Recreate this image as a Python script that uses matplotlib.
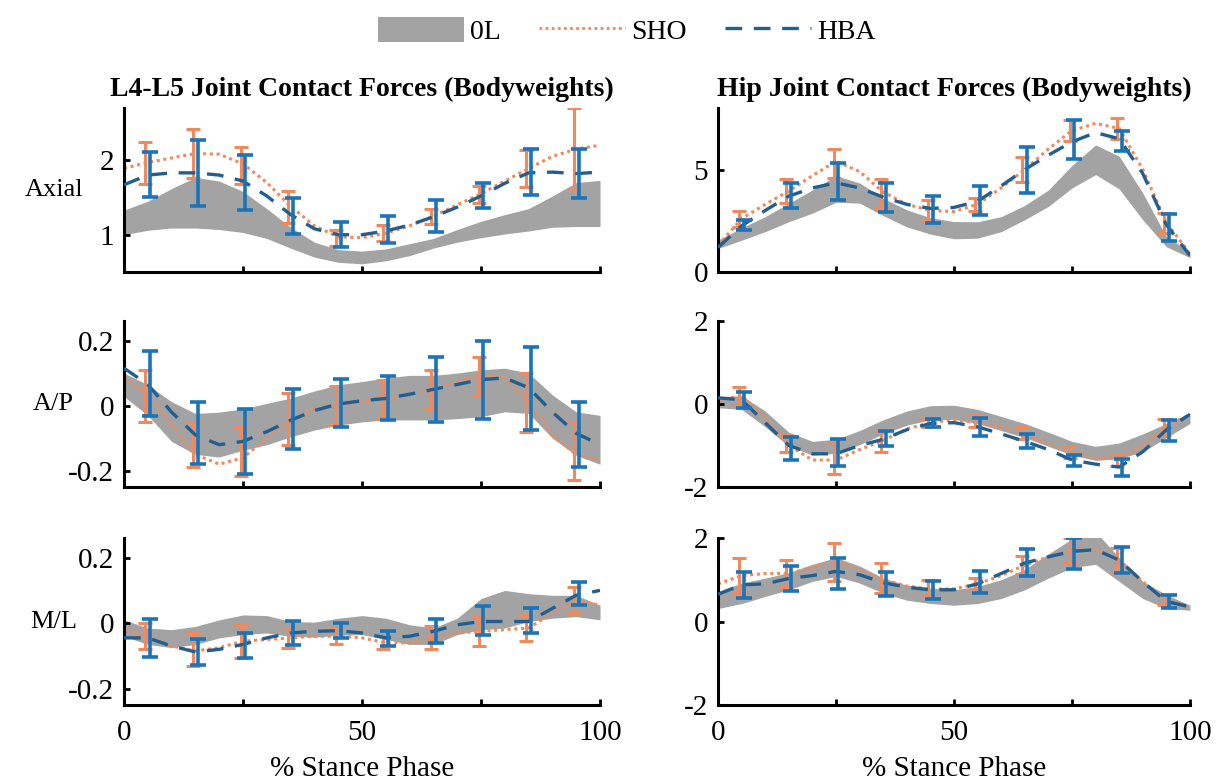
import numpy as np
import matplotlib
matplotlib.use("Agg")
import matplotlib.pyplot as plt
from matplotlib.patches import Patch
from matplotlib.lines import Line2D

plt.rcParams['font.family'] = ['Liberation Serif', 'DejaVu Serif']
plt.rcParams['axes.unicode_minus'] = False

# --- datos ---
PHASE = [0, 5, 10, 15, 20, 25, 30, 35, 40, 45, 50, 55, 60, 65, 70, 75, 80, 85, 90, 95, 100]
BAR_PHASE = [5, 15, 25, 35, 45, 55, 65, 75, 85, 95]

# L4-L5 axial
L_AX_LO = [1.00, 1.06, 1.09, 1.09, 1.07, 1.03, 0.95, 0.82, 0.70, 0.63, 0.61, 0.65, 0.72, 0.82, 0.90, 0.96, 1.01, 1.05, 1.10, 1.11, 1.11]
L_AX_HI = [1.33, 1.45, 1.62, 1.77, 1.72, 1.58, 1.35, 1.10, 0.90, 0.80, 0.78, 0.81, 0.88, 0.95, 1.07, 1.18, 1.27, 1.35, 1.52, 1.70, 1.73]
L_AX_SHO = [1.89, 1.97, 2.03, 2.09, 2.08, 1.95, 1.70, 1.38, 1.12, 0.97, 0.96, 1.02, 1.12, 1.25, 1.40, 1.55, 1.72, 1.89, 2.05, 2.15, 2.20]
L_AX_HBA = [1.67, 1.80, 1.83, 1.83, 1.80, 1.72, 1.52, 1.27, 1.08, 1.00, 1.00, 1.05, 1.13, 1.24, 1.37, 1.52, 1.69, 1.83, 1.84, 1.82, 1.84]
L_AX_SHO_M = [1.96, 2.09, 1.93, 1.37, 0.96, 1.02, 1.25, 1.54, 1.89, 2.15]
L_AX_SHO_SD = [0.28, 0.33, 0.25, 0.21, 0.11, 0.11, 0.10, 0.12, 0.25, 0.55]
L_AX_HBA_M = [1.81, 1.83, 1.70, 1.25, 1.00, 1.07, 1.25, 1.53, 1.84, 1.82]
L_AX_HBA_SD = [0.30, 0.44, 0.37, 0.24, 0.17, 0.18, 0.21, 0.17, 0.31, 0.33]

# L4-L5 A/P
L_AP_LO = [0.028, -0.03, -0.11, -0.15, -0.158, -0.137, -0.12, -0.096, -0.075, -0.06, -0.05, -0.044, -0.044, -0.044, -0.04, -0.034, -0.019, -0.024, -0.10, -0.153, -0.18]
L_AP_HI = [0.10, 0.064, 0.012, -0.024, -0.02, -0.01, 0.007, 0.023, 0.045, 0.064, 0.074, 0.085, 0.093, 0.093, 0.10, 0.11, 0.115, 0.10, 0.033, -0.019, -0.03]
L_AP_SHO = [0.09, 0.03, -0.06, -0.15, -0.18, -0.16, -0.10, -0.045, -0.01, 0.0, 0.01, 0.02, 0.035, 0.05, 0.075, 0.095, 0.085, 0.01, -0.09, -0.15, -0.17]
L_AP_HBA = [0.115, 0.065, -0.02, -0.09, -0.12, -0.11, -0.08, -0.045, -0.015, 0.005, 0.015, 0.022, 0.035, 0.05, 0.065, 0.08, 0.085, 0.055, -0.02, -0.085, -0.12]
L_AP_SHO_M = [0.03, -0.12, -0.14, -0.04, 0.0, 0.02, 0.05, 0.09, 0.01, -0.14]
L_AP_SHO_SD = [0.08, 0.07, 0.075, 0.08, 0.06, 0.06, 0.06, 0.06, 0.09, 0.09]
L_AP_HBA_M = [0.067, -0.084, -0.11, -0.04, 0.008, 0.023, 0.05, 0.079, 0.053, -0.09]
L_AP_HBA_SD = [0.10, 0.096, 0.10, 0.092, 0.074, 0.067, 0.10, 0.119, 0.128, 0.10]

# L4-L5 M/L
L_ML_LO = [-0.04, -0.065, -0.075, -0.065, -0.045, -0.035, -0.03, -0.04, -0.043, -0.037, -0.035, -0.05, -0.065, -0.065, -0.035, -0.02, -0.015, 0.005, 0.015, 0.02, 0.01]
L_ML_HI = [0.01, -0.015, -0.02, -0.01, 0.01, 0.025, 0.023, 0.005, 0.003, 0.015, 0.023, 0.015, -0.005, -0.015, 0.015, 0.075, 0.10, 0.09, 0.085, 0.085, 0.055]
L_ML_SHO = [-0.02, -0.04, -0.07, -0.085, -0.075, -0.055, -0.05, -0.045, -0.04, -0.04, -0.045, -0.06, -0.06, -0.045, -0.03, -0.025, -0.02, -0.015, 0.03, 0.07, 0.055]
L_ML_HBA = [-0.045, -0.045, -0.07, -0.088, -0.08, -0.065, -0.045, -0.03, -0.025, -0.023, -0.03, -0.045, -0.04, -0.025, -0.005, 0.005, 0.005, 0.005, 0.045, 0.085, 0.10]
L_ML_SHO_M = [-0.04, -0.08, -0.055, -0.045, -0.04, -0.06, -0.045, -0.025, -0.015, 0.07]
L_ML_SHO_SD = [0.04, 0.05, 0.05, 0.03, 0.025, 0.02, 0.035, 0.045, 0.04, 0.04]
L_ML_HBA_M = [-0.045, -0.088, -0.068, -0.03, -0.023, -0.047, -0.023, 0.008, 0.008, 0.09]
L_ML_HBA_SD = [0.058, 0.04, 0.039, 0.036, 0.023, 0.023, 0.037, 0.044, 0.039, 0.035]

# Cadera axial
H_AX_LO = [1.15, 1.55, 1.97, 2.45, 2.87, 3.40, 3.36, 2.75, 2.20, 1.85, 1.62, 1.65, 1.97, 2.55, 3.20, 4.10, 4.75, 4.05, 2.54, 1.23, 0.70]
H_AX_HI = [1.56, 2.15, 2.70, 3.35, 4.00, 4.70, 4.34, 3.60, 3.03, 2.65, 2.46, 2.45, 2.70, 3.25, 4.00, 5.20, 6.20, 5.65, 3.85, 1.72, 1.00]
H_AX_SHO = [1.30, 2.60, 3.30, 3.95, 4.70, 5.40, 4.90, 3.90, 3.30, 3.00, 2.95, 3.30, 4.10, 5.00, 6.00, 6.90, 7.25, 7.00, 5.00, 2.40, 0.90]
H_AX_HBA = [1.20, 2.25, 3.00, 3.70, 4.10, 4.35, 4.10, 3.65, 3.30, 3.10, 3.15, 3.45, 4.20, 5.00, 5.70, 6.35, 6.80, 6.50, 4.80, 2.30, 0.80]
H_AX_SHO_M = [2.60, 3.95, 5.30, 3.80, 3.00, 3.30, 5.00, 6.90, 7.00, 2.40]
H_AX_SHO_SD = [0.40, 0.60, 0.70, 0.75, 0.50, 0.30, 0.60, 0.50, 0.50, 0.50]
H_AX_HBA_M = [2.30, 3.72, 4.40, 3.62, 3.05, 3.50, 4.98, 6.45, 6.40, 2.15]
H_AX_HBA_SD = [0.25, 0.62, 0.90, 0.70, 0.66, 0.70, 1.12, 0.95, 0.50, 0.66]

# Cadera A/P
H_AP_LO = [-0.09, -0.13, -0.55, -1.02, -1.23, -1.19, -0.98, -0.72, -0.51, -0.38, -0.37, -0.47, -0.64, -0.81, -1.02, -1.23, -1.36, -1.32, -1.15, -0.81, -0.47]
H_AP_HI = [0.17, 0.20, -0.17, -0.68, -0.90, -0.85, -0.64, -0.38, -0.17, -0.04, -0.03, -0.13, -0.30, -0.47, -0.68, -0.90, -1.02, -0.94, -0.72, -0.47, -0.21]
H_AP_SHO = [0.10, 0.20, -0.35, -1.00, -1.35, -1.35, -1.10, -0.88, -0.60, -0.45, -0.38, -0.45, -0.55, -0.72, -0.95, -1.15, -1.30, -1.30, -1.00, -0.55, -0.25]
H_AP_HBA = [0.15, 0.10, -0.45, -1.00, -1.20, -1.20, -1.00, -0.85, -0.62, -0.47, -0.45, -0.55, -0.72, -0.90, -1.10, -1.35, -1.45, -1.52, -1.15, -0.62, -0.25]
H_AP_SHO_M = [0.20, -0.95, -1.30, -0.90, -0.45, -0.40, -0.70, -1.15, -1.35, -0.55]
H_AP_SHO_SD = [0.20, 0.20, 0.38, 0.25, 0.10, 0.15, 0.15, 0.15, 0.15, 0.20]
H_AP_HBA_M = [0.10, -1.08, -1.17, -0.83, -0.46, -0.55, -0.89, -1.36, -1.53, -0.64]
H_AP_HBA_SD = [0.20, 0.28, 0.32, 0.19, 0.09, 0.21, 0.17, 0.13, 0.21, 0.26]

# Cadera M/L
H_ML_LO = [0.31, 0.43, 0.60, 0.76, 0.96, 1.08, 0.92, 0.68, 0.51, 0.43, 0.39, 0.43, 0.55, 0.76, 1.04, 1.29, 1.37, 0.96, 0.55, 0.31, 0.27]
H_ML_HI = [0.72, 0.92, 1.04, 1.17, 1.37, 1.53, 1.33, 1.04, 0.87, 0.80, 0.76, 0.84, 1.00, 1.25, 1.62, 1.98, 2.15, 1.53, 0.96, 0.64, 0.39]
H_ML_SHO = [0.90, 1.10, 1.15, 1.15, 1.30, 1.45, 1.25, 1.00, 0.85, 0.78, 0.78, 0.90, 1.10, 1.35, 1.55, 1.70, 1.72, 1.47, 0.95, 0.50, 0.35]
H_ML_HBA = [0.65, 0.88, 0.90, 1.03, 1.10, 1.20, 1.12, 0.93, 0.82, 0.76, 0.76, 0.90, 1.15, 1.40, 1.55, 1.68, 1.72, 1.47, 0.95, 0.48, 0.35]
H_ML_SHO_M = [1.10, 1.15, 1.42, 1.05, 0.80, 0.90, 1.35, 1.70, 1.45, 0.50]
H_ML_SHO_SD = [0.42, 0.33, 0.46, 0.36, 0.20, 0.15, 0.22, 0.30, 0.30, 0.10]
H_ML_HBA_M = [0.88, 1.03, 1.15, 0.90, 0.75, 0.94, 1.41, 1.63, 1.48, 0.48]
H_ML_HBA_SD = [0.31, 0.30, 0.38, 0.29, 0.21, 0.26, 0.33, 0.38, 0.31, 0.16]

TITLES = ["L4-L5 Joint Contact Forces (Bodyweights)", "Hip Joint Contact Forces (Bodyweights)"]
ROW_LABELS = ["Axial", "A/P", "M/L"]
XLABEL = "% Stance Phase"
LEG_LABELS = ["0L", "SHO", "HBA"]

# --- estilo ---
GRIS = '#a3a3a3'
NARANJA = '#ef8a5e'
AZUL_LINEA = '#225f8e'
AZUL_BARRA = '#1b73b8'
W, H = 1217, 782

paneles = [
    [(L_AX_LO, L_AX_HI, L_AX_SHO, L_AX_HBA, L_AX_SHO_M, L_AX_SHO_SD, L_AX_HBA_M, L_AX_HBA_SD),
     (H_AX_LO, H_AX_HI, H_AX_SHO, H_AX_HBA, H_AX_SHO_M, H_AX_SHO_SD, H_AX_HBA_M, H_AX_HBA_SD)],
    [(L_AP_LO, L_AP_HI, L_AP_SHO, L_AP_HBA, L_AP_SHO_M, L_AP_SHO_SD, L_AP_HBA_M, L_AP_HBA_SD),
     (H_AP_LO, H_AP_HI, H_AP_SHO, H_AP_HBA, H_AP_SHO_M, H_AP_SHO_SD, H_AP_HBA_M, H_AP_HBA_SD)],
    [(L_ML_LO, L_ML_HI, L_ML_SHO, L_ML_HBA, L_ML_SHO_M, L_ML_SHO_SD, L_ML_HBA_M, L_ML_HBA_SD),
     (H_ML_LO, H_ML_HI, H_ML_SHO, H_ML_HBA, H_ML_SHO_M, H_ML_SHO_SD, H_ML_HBA_M, H_ML_HBA_SD)],
]

ylims = [[(0.5, 2.7), (0, 8)], [(-0.25, 0.26), (-2, 2)], [(-0.25, 0.26), (-2, 2)]]
yticks = [[[1, 2], [0, 5]], [[-0.2, 0, 0.2], [-2, 0, 2]], [[-0.2, 0, 0.2], [-2, 0, 2]]]
yticklabels = [[['1', '2'], ['0', '5']], [['-0.2', '0', '0.2'], ['-2', '0', '2']],
               [['-0.2', '0', '0.2'], ['-2', '0', '2']]]

col_px = [(124, 600), (718, 1190)]
row_px = [(108, 272), (321, 487), (538, 705)]

fig = plt.figure(figsize=(W / 100, H / 100), dpi=100)

for r in range(3):
    for c in range(2):
        x0, x1 = col_px[c]
        y0, y1 = row_px[r]
        ax = fig.add_axes([x0 / W, 1 - y1 / H, (x1 - x0) / W, (y1 - y0) / H])
        lo, hi, sho, hba, sho_m, sho_sd, hba_m, hba_sd = paneles[r][c]

        ax.fill_between(PHASE, lo, hi, color=GRIS, lw=0, zorder=1)
        ax.plot(PHASE, sho, color=NARANJA, ls=(0, (1, 1.2)), lw=2.2, zorder=2)
        ax.errorbar(np.array(BAR_PHASE) - 0.5, sho_m, yerr=sho_sd, fmt='none',
                    ecolor=NARANJA, elinewidth=2.2, capsize=5, capthick=2.2, zorder=3)
        ax.plot(PHASE, hba, color=AZUL_LINEA, ls=(0, (5, 3.5)), lw=2.4, zorder=4)
        ax.errorbar(np.array(BAR_PHASE) + 0.5, hba_m, yerr=hba_sd, fmt='none',
                    ecolor=AZUL_BARRA, elinewidth=2.6, capsize=6, capthick=2.6, zorder=5)

        ax.set_xlim(0, 100)
        ax.set_ylim(*ylims[r][c])
        ax.set_yticks(yticks[r][c])
        ax.set_yticklabels(yticklabels[r][c])
        ax.set_xticks([0, 25, 50, 75, 100])
        if r == 2:
            ax.set_xticklabels(['0', '', '50', '', '100'])
            ax.set_xlabel(XLABEL, fontsize=21, labelpad=7)
        else:
            ax.set_xticklabels([])
        for s in ['top', 'right']:
            ax.spines[s].set_visible(False)
        for s in ['left', 'bottom']:
            ax.spines[s].set_linewidth(2.2)
        ax.tick_params(direction='in', length=4, width=2, labelsize=21)
        ax.tick_params(axis='x', pad=11)
        ax.tick_params(axis='y', pad=7)
        if r == 0:
            ax.set_title(TITLES[c], fontsize=20, fontweight='bold', pad=9)
        if c == 0:
            ax.text(-0.148, 0.5, ROW_LABELS[r], transform=ax.transAxes, fontsize=19,
                    ha='center', va='center')

handles = [Patch(facecolor=GRIS, edgecolor='none'),
           Line2D([], [], color=NARANJA, ls=(0, (1, 1.2)), lw=2),
           Line2D([], [], color=AZUL_LINEA, ls=(0, (5, 3.5)), lw=2.4)]
fig.legend(handles, LEG_LABELS, loc='upper center', bbox_to_anchor=(0.515, 1.0), ncol=3,
           frameon=False, fontsize=20, handlelength=3.1, handleheight=1.0,
           handletextpad=0.2, columnspacing=1.4, borderaxespad=0.2)

fig.savefig('out.png', dpi=100)
